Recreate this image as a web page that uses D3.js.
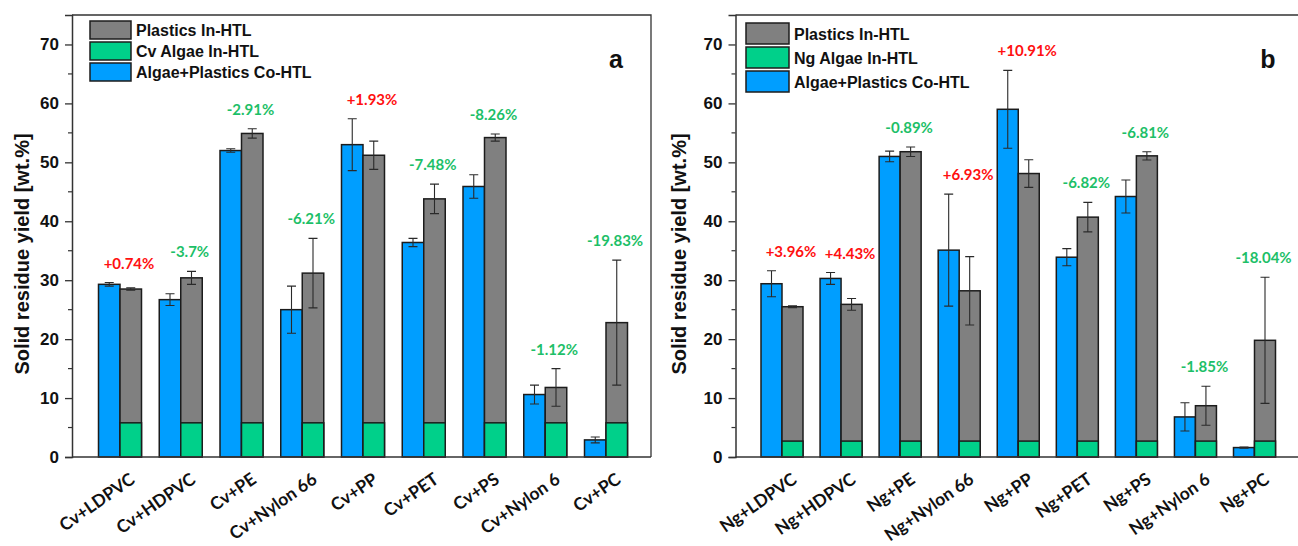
<!DOCTYPE html>
<html>
<head>
<meta charset="utf-8">
<script src="https://cdn.jsdelivr.net/npm/d3@7"></script>
<style>
  html, body { margin: 0; padding: 0; background: #fff; }
  svg { display: block; }
</style>
</head>
<body>
<svg id="chart" width="1298" height="546"></svg>
<script>
// ---- data: panel a (Chlorella vulgaris) ----
const categoriesA = ["Cv+LDPVC", "Cv+HDPVC", "Cv+PE", "Cv+Nylon 66", "Cv+PP", "Cv+PET", "Cv+PS", "Cv+Nylon 6", "Cv+PC"];
const coHtlA      = [29.3, 26.7, 52.0, 25.0, 53.0, 36.4, 45.9, 10.6, 2.9];
const coHtlErrA   = [0.3, 1.0, 0.3, 4.0, 4.4, 0.7, 2.0, 1.6, 0.5];
const plasticsA   = [28.5, 30.4, 54.9, 31.2, 51.2, 43.8, 54.2, 11.8, 22.8];
const plasticsErrA= [0.2, 1.1, 0.8, 5.9, 2.4, 2.5, 0.6, 3.2, 10.6];
const algaeA      = 5.8;
const changeA     = ["+0.74%", "-3.7%", "-2.91%", "-6.21%", "+1.93%", "-7.48%", "-8.26%", "-1.12%", "-19.83%"];

// ---- data: panel b (Nannochloropsis gaditana) ----
const categoriesB = ["Ng+LDPVC", "Ng+HDPVC", "Ng+PE", "Ng+Nylon 66", "Ng+PP", "Ng+PET", "Ng+PS", "Ng+Nylon 6", "Ng+PC"];
const coHtlB      = [29.4, 30.3, 51.0, 35.1, 59.0, 33.9, 44.2, 6.8, 1.6];
const coHtlErrB   = [2.2, 1.0, 0.9, 9.5, 6.6, 1.45, 2.8, 2.4, 0.1];
const plasticsB   = [25.5, 25.9, 51.8, 28.2, 48.1, 40.7, 51.1, 8.7, 19.8];
const plasticsErrB= [0.15, 1.0, 0.8, 5.8, 2.35, 2.5, 0.7, 3.3, 10.7];
const algaeB      = 2.7;
const changeB     = ["+3.96%", "+4.43%", "-0.89%", "+6.93%", "+10.91%", "-6.82%", "-6.81%", "-1.85%", "-18.04%"];

const yTicks = [0, 10, 20, 30, 40, 50, 60, 70];
const yMinorTicks = [5, 15, 25, 35, 45, 55, 65];

// ---- styling ----
const COL_PLASTIC = "#808080";
const COL_ALGAE = "#00D08A";
const COL_CO = "#009EFF";
const COL_UP = "#FF1010";
const COL_DOWN = "#1DBF68";
const OUTLINE = "#1c1c1c";
const SANS = "'Liberation Sans', Arial, sans-serif";
const LABEL_FONT = "Lato, 'Open Sans', sans-serif";

const svg = d3.select("#chart");

function drawPanel(cfg) {
  const g = svg.append("g");
  const y = d3.scaleLinear().domain([0, 75]).range([cfg.bottom, cfg.top]);
  const x = d3.scalePoint().domain(cfg.categories).range(cfg.centers);
  const bw = cfg.barWidth;

  // frame: top and right edges
  g.append("path")
    .attr("d", `M${cfg.left},${cfg.top}H${cfg.right}V${cfg.bottom}`)
    .attr("fill", "none").attr("stroke", "#333").attr("stroke-width", 1.3);

  // y axis with major and minor ticks
  const yAxis = d3.axisLeft(y).tickValues(yTicks).tickSize(7).tickPadding(6).tickFormat(d3.format("d"));
  const ya = g.append("g").attr("transform", `translate(${cfg.left},0)`).call(yAxis);
  ya.select(".domain").attr("stroke", "#333").attr("stroke-width", 1.5);
  ya.selectAll(".tick line").attr("stroke", "#333").attr("stroke-width", 1.3);
  ya.selectAll(".tick text").attr("font-family", SANS).attr("font-weight", "bold")
    .attr("font-size", 17).attr("fill", "#111");
  g.append("g").selectAll("line").data(yMinorTicks).join("line")
    .attr("x1", cfg.left - 4).attr("x2", cfg.left)
    .attr("y1", d => y(d)).attr("y2", d => y(d))
    .attr("stroke", "#333").attr("stroke-width", 1.2);

  // bars
  const rows = cfg.categories.map((c, i) => ({
    c, co: cfg.co[i], coErr: cfg.coErr[i], pl: cfg.plastics[i], plErr: cfg.plasticsErr[i], change: cfg.change[i]
  }));
  const bars = g.append("g");
  bars.selectAll("rect.co").data(rows).join("rect")
    .attr("x", d => x(d.c) - bw).attr("width", bw)
    .attr("y", d => y(d.co)).attr("height", d => y(0) - y(d.co))
    .attr("fill", COL_CO).attr("stroke", OUTLINE).attr("stroke-width", 1.5);
  bars.selectAll("rect.pl").data(rows).join("rect")
    .attr("x", d => x(d.c)).attr("width", bw)
    .attr("y", d => y(d.pl)).attr("height", d => y(0) - y(d.pl))
    .attr("fill", COL_PLASTIC).attr("stroke", OUTLINE).attr("stroke-width", 1.5);
  bars.selectAll("rect.al").data(rows).join("rect")
    .attr("x", d => x(d.c)).attr("width", bw)
    .attr("y", y(cfg.algae)).attr("height", y(0) - y(cfg.algae))
    .attr("fill", COL_ALGAE).attr("stroke", OUTLINE).attr("stroke-width", 1.5);

  // error bars
  const errs = [];
  rows.forEach(d => {
    errs.push({ cx: x(d.c) - bw / 2, v: d.co, e: d.coErr });
    errs.push({ cx: x(d.c) + bw / 2, v: d.pl, e: d.plErr });
  });
  const eg = g.append("g").attr("stroke", "#2a2a2a").attr("stroke-width", 1.1);
  eg.selectAll("path").data(errs).join("path")
    .attr("fill", "none")
    .attr("d", d => {
      const t = y(d.v + d.e), b = y(d.v - d.e), c = 4.5;
      return `M${d.cx},${t}V${b}M${d.cx - c},${t}H${d.cx + c}M${d.cx - c},${b}H${d.cx + c}`;
    });

  // x axis baseline
  g.append("line").attr("x1", cfg.left).attr("x2", cfg.right)
    .attr("y1", cfg.bottom).attr("y2", cfg.bottom)
    .attr("stroke", "#333").attr("stroke-width", 1.5);

  // category labels
  g.append("g").selectAll("text").data(rows).join("text")
    .attr("transform", d => `translate(${x(d.c) + 16},${cfg.bottom + 25}) rotate(-35)`)
    .attr("text-anchor", "end")
    .attr("font-family", LABEL_FONT).attr("font-weight", "bold").attr("font-size", 17.5)
    .attr("fill", "#111").text(d => d.c);

  // change labels above each group
  g.append("g").selectAll("text").data(rows).join("text")
    .attr("x", d => x(d.c) + 9)
    .attr("y", d => Math.min(y(d.co + d.coErr), y(d.pl + d.plErr)) - 14)
    .attr("text-anchor", "middle")
    .attr("font-family", LABEL_FONT).attr("font-weight", "bold").attr("font-size", 15)
    .attr("fill", d => d.change.startsWith("+") ? COL_UP : COL_DOWN)
    .text(d => d.change);

  // y axis title
  g.append("text")
    .attr("transform", `translate(${cfg.titleX},${(cfg.top + cfg.bottom) / 2 + 18}) rotate(-90)`)
    .attr("text-anchor", "middle")
    .attr("font-family", SANS).attr("font-weight", "bold").attr("font-size", 20)
    .attr("fill", "#111").text("Solid residue yield [wt.%]");

  // panel letter
  g.append("text").attr("x", cfg.letterX).attr("y", 68)
    .attr("text-anchor", "middle")
    .attr("font-family", SANS).attr("font-weight", "bold").attr("font-size", 25)
    .attr("fill", "#111").text(cfg.letter);

  // legend
  const lg = g.append("g");
  const items = [
    { label: "Plastics In-HTL", color: COL_PLASTIC },
    { label: cfg.algaeLabel, color: COL_ALGAE },
    { label: "Algae+Plastics Co-HTL", color: COL_CO }
  ];
  items.forEach((it, i) => {
    const yy = cfg.legendY + i * cfg.legendStep;
    lg.append("rect").attr("x", cfg.legendX).attr("y", yy)
      .attr("width", cfg.swatchW).attr("height", cfg.swatchH)
      .attr("fill", it.color).attr("stroke", OUTLINE).attr("stroke-width", 1.5);
    lg.append("text").attr("x", cfg.legendX + cfg.swatchW + 5).attr("y", yy + cfg.swatchH / 2 + 6)
      .attr("font-family", SANS).attr("font-weight", "bold").attr("font-size", 16)
      .attr("fill", "#111").text(it.label);
  });
}

drawPanel({
  categories: categoriesA, co: coHtlA, coErr: coHtlErrA, plastics: plasticsA, plasticsErr: plasticsErrA,
  algae: algaeA, change: changeA, algaeLabel: "Cv Algae In-HTL", letter: "a",
  left: 72, right: 651, top: 15, bottom: 457, centers: [120, 606], barWidth: 21.5,
  titleX: 29, letterX: 616, legendX: 90, legendY: 21, legendStep: 21, swatchW: 41, swatchH: 18
});

drawPanel({
  categories: categoriesB, co: coHtlB, coErr: coHtlErrB, plastics: plasticsB, plasticsErr: plasticsErrB,
  algae: algaeB, change: changeB, algaeLabel: "Ng Algae In-HTL", letter: "b",
  left: 735.5, right: 1299, top: 15, bottom: 457, centers: [782, 1254.5], barWidth: 21,
  titleX: 686, letterX: 1268, legendX: 746, legendY: 23, legendStep: 24, swatchW: 43, swatchH: 21
});
</script>
</body>
</html>
